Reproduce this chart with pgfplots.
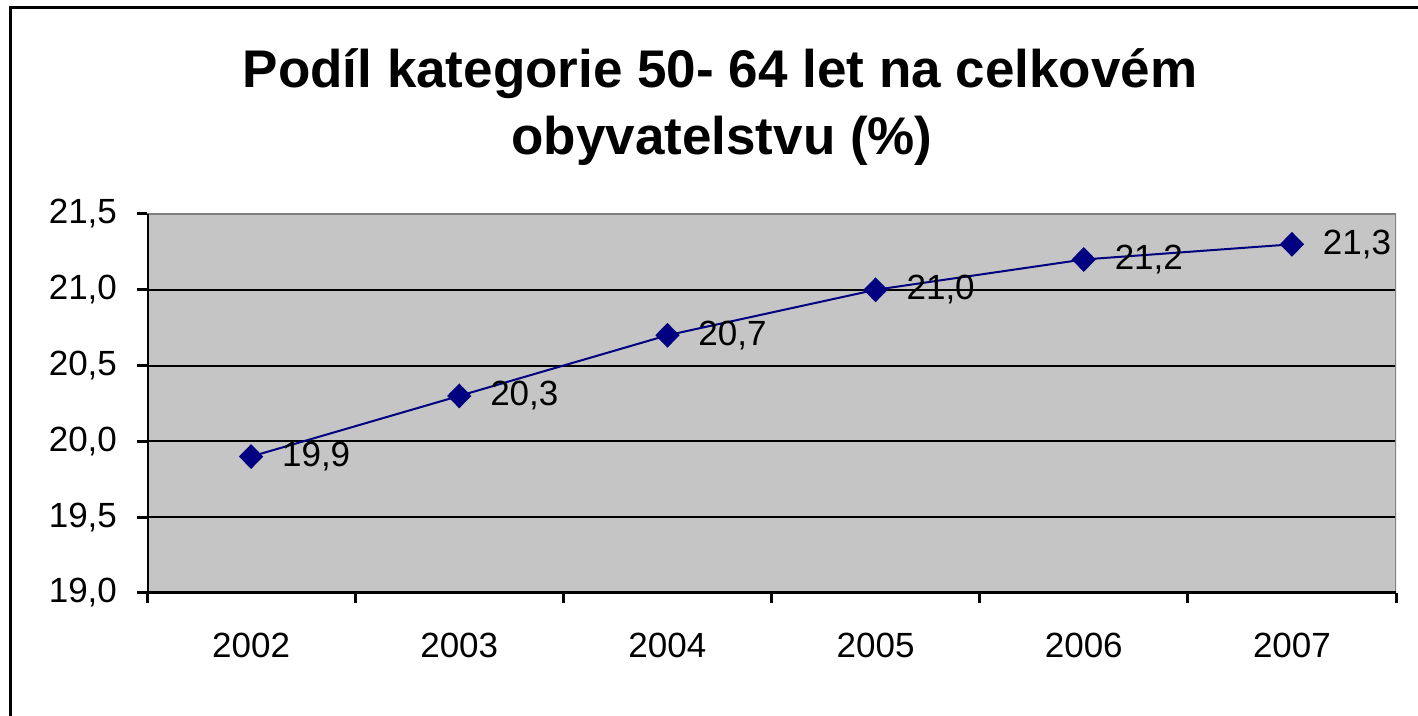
\documentclass[border=0pt]{standalone}
\usepackage{pgfplots}
\pgfplotsset{compat=1.18}
\usepackage{fontspec}
\setmainfont{Liberation Sans}
\definecolor{plotbg}{RGB}{197,197,197}
\definecolor{seriesblue}{RGB}{0,0,128}

\begin{document}
\begin{tikzpicture}
% page = 1418 x 716 px at 0.5pt per px
\path[use as bounding box] (0,0) rectangle (709pt,358pt);
\draw[line width=1.5pt] (5pt,0) -- (5pt,354pt) -- (709pt,354pt);
\node[anchor=base, font=\bfseries\fontsize{26.5}{32}\selectfont] at (360pt,314pt) {Podíl kategorie 50- 64 let na celkovém};
\node[anchor=base, font=\bfseries\fontsize{26.5}{32}\selectfont] at (361pt,280.5pt) {obyvatelstvu (\%)};

\begin{axis}[
    at={(73.5pt,61.5pt)}, anchor=south west,
    width=624.5pt, height=189.5pt, scale only axis,
    xmin=-0.5, xmax=5.5,
    ymin=19, ymax=21.5,
    tick pos=left,
    xtick={0,...,5},
    xticklabels={2002,2003,2004,2005,2006,2007},
    x tick style={draw=none},
    minor xtick={-0.5,0.5,...,5.5},
    minor x tick style={draw=black, line width=1.5pt},
    minor tick length=5pt,
    ytick={19,19.5,...,21.5},
    y tick style={black, line width=1.5pt},
    major tick length=5pt,
    tick align=outside,
    ymajorgrids,
    grid style={black, line width=1pt},
    axis line style={draw=none},
    axis background/.style={fill=plotbg},
    tick label style={font=\fontsize{17.5}{20}\selectfont},
    yticklabel style={xshift=-6.5pt},
    xticklabel style={yshift=-11.5pt},
    /pgf/number format/.cd, fixed, fixed zerofill, precision=1, use comma, assume math mode=true,
]
\addplot[seriesblue, line width=1pt, mark=diamond*, mark size=5.5pt,
    mark options={xscale=1.3},
    nodes near coords,
    every node near coord/.append style={black, anchor=west, inner sep=0pt, xshift=15pt,
        font=\fontsize{17.5}{20}\selectfont}]
    coordinates {(0,19.9) (1,20.3) (2,20.7) (3,21.0) (4,21.2) (5,21.3)};
\draw[gray, line width=1pt] (rel axis cs:0,1) -- (rel axis cs:1,1) -- (rel axis cs:1,0);
\draw[black, line width=1.5pt] (rel axis cs:0,1) -- (rel axis cs:0,0) -- (rel axis cs:1,0);
\end{axis}
\end{tikzpicture}
\end{document}
